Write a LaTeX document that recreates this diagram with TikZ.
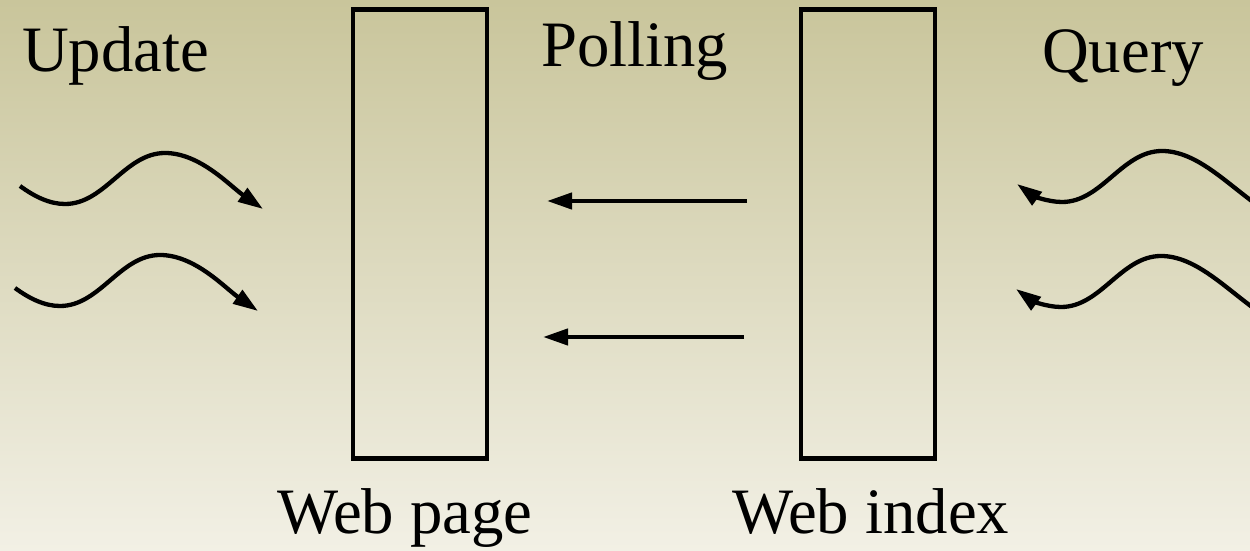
\documentclass[tikz,border=0pt]{standalone}
\usepackage{fontspec}
\setmainfont{Liberation Serif}
\usetikzlibrary{arrows.meta}
\definecolor{bgtop}{HTML}{C9C59B}
\definecolor{bgbottom}{HTML}{F2F0E5}
\tikzset{
  stroke/.style={line width=4.3bp, draw=black},
  tipped/.style={stroke, -{Triangle[length=25bp,width=16bp]}},
  tippedback/.style={stroke, {Triangle[length=25bp,width=16bp]}-},
  label/.style={inner sep=0pt, anchor=base west, font=\fontsize{65}{72}\selectfont},
  storebox/.style={stroke, rectangle, inner sep=0pt, minimum width=134bp, minimum height=449bp},
  wave/.pic={
    \coordinate (-start) at (0,0);
    \coordinate (-trough) at (45,18);
    \coordinate (-peak) at (145,-33);
    \coordinate (-end) at (243,23);
  }
}
\begin{document}
\begin{tikzpicture}[x=1bp, y=-1bp]
  \useasboundingbox (0,0) rectangle (1250,551);
  \clip (0,0) rectangle (1250,551);
  \shade[top color=bgtop, bottom color=bgbottom] (0,0) rectangle (1250,551);

  % the two stores
  \node[storebox] (page) at (420,234) {};
  \node[storebox] (index) at (868,234) {};

  % captions
  \node[label] (update) at (22,72) {Update};
  \node[label] (polling) at (541,67) {Polling};
  \node[label] (query) at (1042,73) {Query};
  \node[label] (pagename) at (277,533) {Web page};
  \node[label] (indexname) at (732,533) {Web index};

  % incoming updates
  \pic (u1) at (20,186) {wave};
  \pic (u2) at (15,288) {wave};
  \draw[tipped] (u1-start) .. controls +(15,11) and +(-15,0) .. (u1-trough)
    .. controls +(40,0) and +(-40,0) .. (u1-peak)
    .. controls +(35,0) and +(-33,-23) .. (u1-end);
  \draw[tipped] (u2-start) .. controls +(15,11) and +(-15,0) .. (u2-trough)
    .. controls +(40,0) and +(-40,0) .. (u2-peak)
    .. controls +(35,0) and +(-33,-23) .. (u2-end);

  % incoming queries
  \pic (q1) at (1017,184) {wave};
  \pic (q2) at (1016,289) {wave};
  \draw[tippedback] (q1-start) .. controls +(15,11) and +(-15,0) .. (q1-trough)
    .. controls +(40,0) and +(-40,0) .. (q1-peak)
    .. controls +(35,0) and +(-33,-23) .. (q1-end);
  \draw[tippedback] (q2-start) .. controls +(15,11) and +(-15,0) .. (q2-trough)
    .. controls +(40,0) and +(-40,0) .. (q2-peak)
    .. controls +(35,0) and +(-33,-23) .. (q2-end);

  % polling from the index to the pages
  \coordinate (p1from) at (747,201);
  \coordinate (p1to) at (547,201);
  \coordinate (p2from) at (744,337);
  \coordinate (p2to) at (543,337);
  \draw[tipped] (p1from) -- (p1to);
  \draw[tipped] (p2from) -- (p2to);
\end{tikzpicture}
\end{document}
